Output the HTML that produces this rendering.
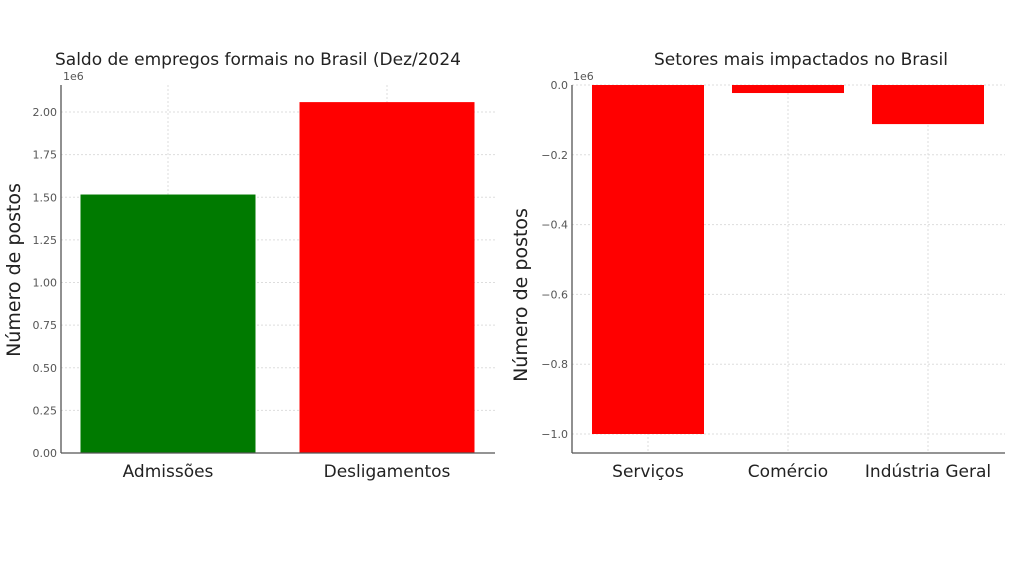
<!DOCTYPE html>
<html><head><meta charset="utf-8"><style>
body{margin:0;background:#fff;}
svg text{font-family:"DejaVu Sans","Liberation Sans",sans-serif;}
</style></head><body>
<svg id="c" width="1024" height="576" xmlns="http://www.w3.org/2000/svg"></svg>
<script>
const catsL=["Admissões","Desligamentos"];
const valsL=[1516000,2058000];
const colorsL=["#007a00","#ff0000"];
const ticksL=[0,0.25,0.5,0.75,1.0,1.25,1.5,1.75,2.0];
const catsR=["Serviços","Comércio","Indústria Geral"];
const valsR=[-1000000,-23000,-112000];
const ticksR=[0,-0.2,-0.4,-0.6,-0.8,-1.0];
const NS="http://www.w3.org/2000/svg";
const svg=document.getElementById('c');
function el(tag,attrs,parent){const e=document.createElementNS(NS,tag);for(const k in attrs)e.setAttribute(k,attrs[k]);(parent||svg).appendChild(e);return e;}
function txt(s,attrs){const t=el('text',attrs);t.textContent=s;return t;}

// left panel
const L={x0:61,x1:495,y0:453,pxPerM:170.5};
const yL=v=>L.y0-v/1e6*L.pxPerM;
const bwL=(L.x1-L.x0)/ (catsL.length-0.2+0.4) ;
const stepL=219, startL=168;
const xL=i=>startL+i*stepL;
let g=el('g',{});


ticksL.forEach(t=>{const y=yL(t*1e6);
 const l=el('line',{x1:L.x0,x2:L.x1,y1:y,y2:y,stroke:'#ddd','stroke-dasharray':'2,2'},g);
 const tx=txt(t.toFixed(2),{x:L.x0-4,y:y+4,'text-anchor':'end','font-size':11,fill:'#555'});});
catsL.forEach((c,i)=>{const l=el('line',{x1:xL(i),x2:xL(i),y1:85,y2:L.y0,stroke:'#ddd','stroke-dasharray':'2,2'},g);});
catsL.forEach((c,i)=>{const v=valsL[i];const r=el('rect',{x:xL(i)-87.5,y:yL(v),width:175,height:L.y0-yL(v),fill:colorsL[i]},g);
 
 const t=txt(c,{x:xL(i),y:477,'text-anchor':'middle','font-size':17,fill:'#222'});});
el('line',{x1:L.x0,x2:L.x0,y1:85,y2:L.y0,stroke:'#555','stroke-width':1.3},g);
el('line',{x1:L.x0,x2:L.x1,y1:L.y0,y2:L.y0,stroke:'#555','stroke-width':1.3},g);
let t=txt('1e6',{x:63,y:80,'font-size':11,fill:'#555'});
t=txt('Saldo de empregos formais no Brasil (Dez/2024',{x:258,y:65,'text-anchor':'middle','font-size':17,fill:'#222'});
t=txt('Número de postos',{x:0,y:0,'text-anchor':'middle','font-size':19,fill:'#222',transform:'translate(20,270) rotate(-90)'});

// right panel
const R={x0:572,x1:1005,y0:85,base:453,pxPerM:349};
const yR=v=>R.y0-v/1e6*R.pxPerM;
const xR=i=>648+i*140;
ticksR.forEach(tk=>{const y=yR(tk*1e6);
 const l=el('line',{x1:R.x0,x2:R.x1,y1:y,y2:y,stroke:'#ddd','stroke-dasharray':'2,2'});
 const tx=txt((tk===0?'0.0':'−'+Math.abs(tk).toFixed(1)),{x:R.x0-4,y:y+4,'text-anchor':'end','font-size':11,fill:'#555'});});
catsR.forEach((c,i)=>{const l=el('line',{x1:xR(i),x2:xR(i),y1:85,y2:R.base,stroke:'#ddd','stroke-dasharray':'2,2'});});
catsR.forEach((c,i)=>{const v=valsR[i];const r=el('rect',{x:xR(i)-56,y:R.y0,width:112,height:yR(v)-R.y0,fill:'#ff0000'});
 
 const t2=txt(c,{x:xR(i),y:477,'text-anchor':'middle','font-size':17,fill:'#222'});});
el('line',{x1:R.x0,x2:R.x0,y1:85,y2:R.base,stroke:'#555','stroke-width':1.3});
el('line',{x1:R.x0,x2:R.x1,y1:R.base,y2:R.base,stroke:'#555','stroke-width':1.3});
t=txt('1e6',{x:573,y:80,'font-size':11,fill:'#555'});
t=txt('Setores mais impactados no Brasil',{x:801,y:65,'text-anchor':'middle','font-size':17,fill:'#222'});
t=txt('Número de postos',{x:0,y:0,'text-anchor':'middle','font-size':19,fill:'#222',transform:'translate(527,295) rotate(-90)'});
</script>
</body></html>
